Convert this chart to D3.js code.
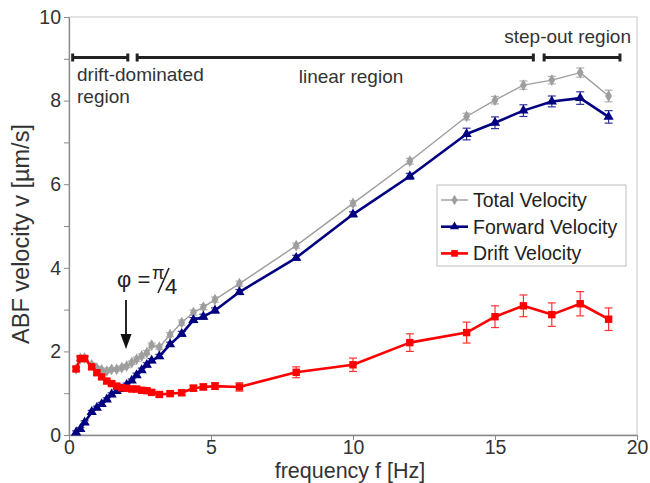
<!DOCTYPE html>
<html><head><meta charset="utf-8">
<script src="https://cdn.jsdelivr.net/npm/d3@7"></script>
<style>
html,body{margin:0;padding:0;background:#fff;}
svg{display:block;font-family:"Liberation Sans",Arial,sans-serif;}
</style></head>
<body><svg id="c" width="650" height="483"></svg>
<script>
const freq = [0.25,0.4,0.55,0.8,0.98,1.15,1.33,1.5,1.68,1.86,2.03,2.21,2.38,2.56,2.74,2.91,3.18,3.56,3.97,4.38,4.73,5.14,6.0,8,10,12,14,15,16,17,18,19];
const totalV = [1.58,1.83,1.84,1.68,1.6,1.56,1.53,1.57,1.57,1.61,1.65,1.73,1.81,1.89,1.97,2.15,2.1,2.4,2.69,2.93,3.06,3.24,3.62,4.53,5.54,6.55,7.62,8.01,8.37,8.49,8.67,8.11];
const totalErr = [0.04,0.04,0.04,0.04,0.04,0.04,0.04,0.04,0.04,0.04,0.04,0.04,0.05,0.05,0.05,0.05,0.05,0.05,0.06,0.06,0.06,0.06,0.06,0.06,0.06,0.07,0.08,0.09,0.1,0.09,0.11,0.14];
const forwardV = [0.06,0.14,0.3,0.55,0.65,0.74,0.85,0.97,1.05,1.1,1.2,1.3,1.43,1.55,1.68,1.78,1.88,2.17,2.42,2.75,2.83,2.98,3.42,4.24,5.28,6.19,7.2,7.47,7.76,7.98,8.06,7.61];
const forwardErr = [0.04,0.04,0.04,0.04,0.04,0.04,0.04,0.04,0.04,0.04,0.04,0.04,0.05,0.05,0.05,0.05,0.05,0.05,0.06,0.06,0.06,0.06,0.06,0.06,0.06,0.07,0.14,0.14,0.14,0.13,0.15,0.15];
const driftV = [1.58,1.83,1.83,1.63,1.49,1.39,1.29,1.23,1.17,1.13,1.12,1.1,1.1,1.07,1.06,1.02,0.97,0.99,1.01,1.12,1.15,1.17,1.15,1.5,1.68,2.21,2.45,2.83,3.09,2.88,3.14,2.77];
const driftErr = [0.05,0.05,0.05,0.05,0.05,0.05,0.05,0.05,0.05,0.05,0.05,0.05,0.05,0.05,0.05,0.05,0.06,0.06,0.06,0.07,0.07,0.08,0.1,0.13,0.16,0.21,0.25,0.26,0.26,0.28,0.29,0.27];
const xTicks = [0,5,10,15,20];
const yTicks = [0,1,2,3,4,5,6,7,8,9,10];
const yLabels = ["0","","2","","4","","6","","8","","10"];
const seriesNames = ["Total Velocity","Forward Velocity","Drift Velocity"];
const regions = [
  {label:"drift-dominated", from:0.13, to:2.07},
  {label:"linear region", from:2.4, to:16.35},
  {label:"step-out region", from:16.73, to:19.4}
];

const svg = d3.select("#c");
const x = d3.scaleLinear().domain([0,20]).range([69,637]);
const y = d3.scaleLinear().domain([0,10]).range([435,17]);
const FONT = "Liberation Sans, Arial, sans-serif";

// frame
svg.append("rect").attr("x",x(0)).attr("y",y(10)).attr("width",x(20)-x(0)).attr("height",y(0)-y(10))
  .attr("fill","none").attr("stroke","#d0d0d0").attr("stroke-width",1.2);

// axes
const ya = svg.append("g").attr("transform",`translate(${x(0)},0)`)
  .call(d3.axisLeft(y).tickValues(yTicks).tickSize(5).tickSizeOuter(0).tickFormat((d,i)=>yLabels[i]));
const xa = svg.append("g").attr("transform",`translate(0,${y(0)})`)
  .call(d3.axisBottom(x).tickValues(xTicks).tickSize(5).tickSizeOuter(0));
[ya,xa].forEach(a=>{
  a.select(".domain").attr("stroke","#8a8a8a").attr("stroke-width",1.3);
  a.selectAll(".tick line").attr("stroke","#8a8a8a");
  a.selectAll("text").attr("font-size",19.5).attr("fill","#333").attr("font-family",FONT);
});
ya.selectAll("text").attr("x",-8);
xa.selectAll("text").attr("y",5);

// axis titles
svg.append("text").attr("x",350).attr("y",478).attr("text-anchor","middle")
  .attr("font-size",21.5).attr("fill","#333").text("frequency f [Hz]");
svg.append("text").attr("transform",`translate(29,234) rotate(-90)`).attr("text-anchor","middle")
  .attr("font-size",23.5).attr("fill","#333").text("ABF velocity v [µm/s]");

// region bars
const barY = 57.5;
regions.forEach(r=>{
  const g = svg.append("g").attr("stroke","#222");
  g.append("line").attr("x1",x(r.from)).attr("x2",x(r.to)).attr("y1",barY).attr("y2",barY).attr("stroke-width",3);
  [r.from,r.to].forEach(v=>g.append("line").attr("x1",x(v)).attr("x2",x(v)).attr("y1",barY-4).attr("y2",barY+4).attr("stroke-width",3));
});
const tcol = "#333";
svg.append("text").attr("x",77).attr("y",81).attr("font-size",19).attr("fill",tcol).text("drift-dominated");
svg.append("text").attr("x",77).attr("y",103).attr("font-size",19).attr("fill",tcol).text("region");
svg.append("text").attr("x",351).attr("y",83).attr("text-anchor","middle").attr("font-size",19).attr("fill",tcol).text("linear region");
svg.append("text").attr("x",631).attr("y",43).attr("text-anchor","end").attr("font-size",19).attr("fill",tcol).text("step-out region");

// phi annotation
svg.append("text").attr("x",117).attr("y",287).attr("font-size",22).attr("fill","#222").text("φ =");
svg.append("text").attr("x",152).attr("y",279).attr("font-size",18).attr("fill","#222").text("π");
svg.append("line").attr("x1",158).attr("y1",293).attr("x2",169).attr("y2",268).attr("stroke","#222").attr("stroke-width",1.6);
svg.append("text").attr("x",165).attr("y",294).attr("font-size",22).attr("fill","#222").text("4");
svg.append("line").attr("x1",126).attr("x2",126).attr("y1",300).attr("y2",337).attr("stroke","#111").attr("stroke-width",1.8);
svg.append("path").attr("d","M120.5,334 L131.5,334 L126,349 Z").attr("fill","#111");

// series
const series = [
  {name:seriesNames[0], v:totalV, e:totalErr, color:"#9e9e9e", lw:1.4, sym:d3.symbolDiamond, size:40},
  {name:seriesNames[1], v:forwardV, e:forwardErr, color:"#000080", lw:2.6, sym:d3.symbolTriangle, size:45},
  {name:seriesNames[2], v:driftV, e:driftErr, color:"#ff0000", lw:2.6, sym:d3.symbolSquare, size:55}
];
const line = d3.line().x(d=>x(d[0])).y(d=>y(d[1]));
series.forEach(s=>{
  const pts = freq.map((f,i)=>[f,s.v[i],s.e[i]]);
  const g = svg.append("g");
  g.append("path").datum(pts).attr("d",line).attr("fill","none").attr("stroke",s.color).attr("stroke-width",s.lw).attr("stroke-linejoin","round");
  const eb = g.append("g").attr("stroke",s.color).attr("stroke-width",1.2).attr("opacity",0.8);
  pts.forEach(p=>{
    const cx = x(p[0]), y1 = y(p[1]+p[2]), y2 = y(p[1]-p[2]);
    eb.append("line").attr("x1",cx).attr("x2",cx).attr("y1",y1).attr("y2",y2);
    eb.append("line").attr("x1",cx-4).attr("x2",cx+4).attr("y1",y1).attr("y2",y1);
    eb.append("line").attr("x1",cx-4).attr("x2",cx+4).attr("y1",y2).attr("y2",y2);
  });
  g.selectAll("path.m").data(pts).join("path").attr("class","m")
    .attr("transform",p=>`translate(${x(p[0])},${y(p[1])})`)
    .attr("d",d3.symbol().type(s.sym).size(s.size)).attr("fill",s.color);
});

// legend
const lg = svg.append("g");
lg.append("rect").attr("x",437).attr("y",185).attr("width",189).attr("height",81).attr("fill","#fff").attr("stroke","#bdbdbd").attr("stroke-width",1);
series.forEach((s,i)=>{
  const yy = 200 + i*26.7;
  lg.append("line").attr("x1",441).attr("x2",468).attr("y1",yy).attr("y2",yy).attr("stroke",s.color).attr("stroke-width",s.lw);
  lg.append("path").attr("transform",`translate(454.5,${yy})`).attr("d",d3.symbol().type(s.sym).size(s.size*0.8)).attr("fill",s.color);
  lg.append("text").attr("x",473).attr("y",yy+7).attr("font-size",19.5).attr("fill","#222").text(s.name);
});
</script></body></html>
